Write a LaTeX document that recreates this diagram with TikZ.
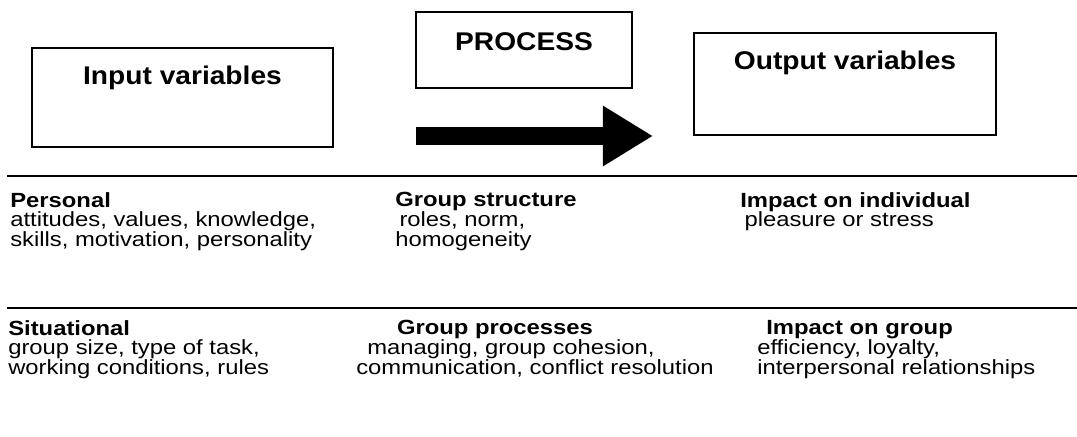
\documentclass[tikz,border=0pt]{standalone}
\usepackage{fontspec}
\setmainfont{Liberation Sans}[FakeStretch=1.1]
\newfontfamily\widefont{Liberation Sans}[FakeStretch=1.16]
\usetikzlibrary{positioning,arrows.meta}
\setlength{\lineskiplimit}{-6pt}

\tikzset{
  varbox/.style={draw, line width=2pt, inner sep=0pt},
  boxtitle/.style={font=\bfseries\fontsize{18.2}{20}\selectfont, inner sep=0pt},
  cell/.style={anchor=north west, align=left, inner sep=0pt,
    font=\widefont\fontsize{14.6}{14.1}\selectfont},
  rule/.style={line width=2pt},
}

\begin{document}
\begin{tikzpicture}[x=0.025cm, y=-0.025cm]
	\useasboundingbox (0,0) rectangle (1077,436);
	% boxes on top
	\node[varbox, minimum width=7.525cm, minimum height=2.475cm] (inbox)  at (182.5, 97.5) {};
	\node[varbox, minimum width=5.4cm,   minimum height=1.9cm]   (procbox) at (524, 50) {};
	\node[varbox, minimum width=7.55cm,  minimum height=2.55cm]  (outbox) at (845, 84) {};
	\node[boxtitle] (intitle)  at (182.5, 78) {Input variables};
	\node[boxtitle] (proctitle) at (524, 42) {PROCESS};
	\node[boxtitle] (outtitle) at (845, 63) {Output variables};
	% big arrow
	\coordinate (arrowstart) at (416, 136);
	\coordinate (arrowend)   at (653, 136);
	\draw[line width=12.8pt, -{Triangle[length=35.6pt, width=40.5pt]}] (arrowstart) -- (arrowend);
	% rules
	\draw[rule] (7,176) -- (1077,176);
	\draw[rule] (7,308) -- (1077,308);
	% first row
	\node[cell] (personal) at (10, 192) {\textbf{Personal}\\
		attitudes, values, knowledge,\\
		skills, motivation, personality};
	\node[cell] (structure) at (395, 192) {\textbf{Group structure}\\
		\hspace*{3pt}roles, norm,\\
		homogeneity};
	\node[cell] (individual) at (740, 192) {\textbf{Impact on individual}\\
		\hspace*{3pt}pleasure or stress};
	% second row
	\node[cell] (situational) at (8, 320) {\textbf{Situational}\\
		group size, type of task,\\
		working conditions, rules};
	\node[cell] (processes) at (356, 320) {\hspace*{29pt}\textbf{Group processes}\\
		\hspace*{7.8pt}managing, group cohesion,\\
		communication, conflict resolution};
	\node[cell] (group) at (757, 320) {\hspace*{6.4pt}\textbf{Impact on group}\\
		efficiency, loyalty,\\
		interpersonal relationships};
\end{tikzpicture}
\end{document}
